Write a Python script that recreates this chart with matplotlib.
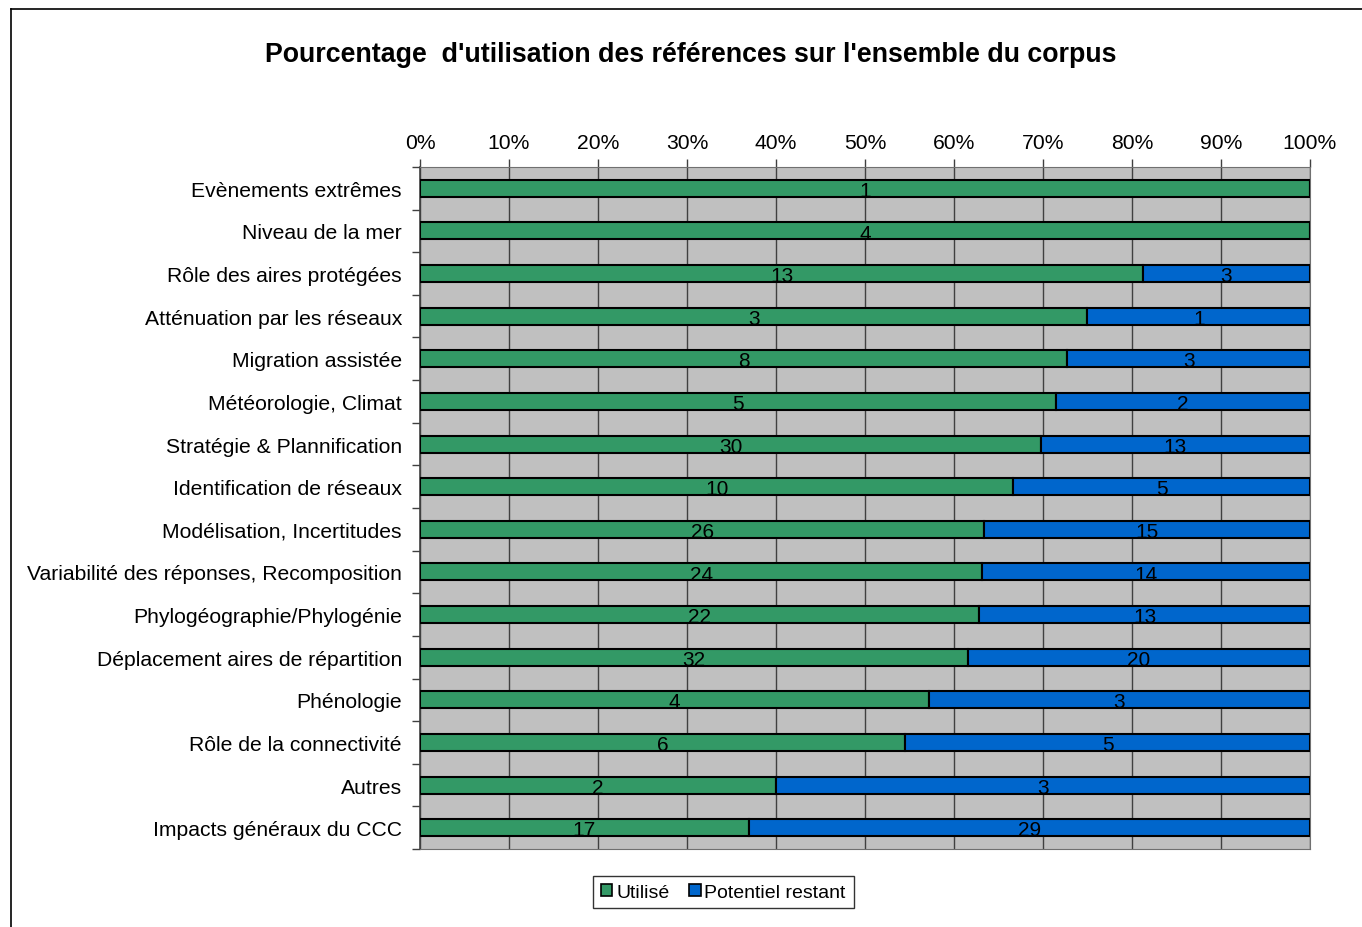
import matplotlib.pyplot as plt
import numpy as np
from matplotlib.patches import Patch
from matplotlib.lines import Line2D

plt.rcParams['font.family'] = ['Liberation Sans', 'DejaVu Sans']

categories = ["Evènements extrêmes", "Niveau de la mer", "Rôle des aires protégées",
              "Atténuation par les réseaux", "Migration assistée", "Météorologie, Climat",
              "Stratégie & Plannification", "Identification de réseaux",
              "Modélisation, Incertitudes", "Variabilité des réponses, Recomposition",
              "Phylogéographie/Phylogénie", "Déplacement aires de répartition",
              "Phénologie", "Rôle de la connectivité", "Autres", "Impacts généraux du CCC"]
utilise = [1, 4, 13, 3, 8, 5, 30, 10, 26, 24, 22, 32, 4, 6, 2, 17]
restant = [0, 0, 3, 1, 3, 2, 13, 5, 15, 14, 13, 20, 3, 5, 3, 29]

green = "#339966"
blue = "#0066CC"

u = np.array(utilise, dtype=float)
r = np.array(restant, dtype=float)
tot = u + r
pu = u / tot * 100
pr = r / tot * 100
y = np.arange(len(categories))

fig = plt.figure(figsize=(13.62, 9.28), dpi=100)
ax = fig.add_axes([0.3084, 0.084, 0.6534, 0.735])
ax.set_facecolor("#C0C0C0")

ax.barh(y, pu, height=0.4, color=green, edgecolor="black", linewidth=1.5, zorder=3)
ax.barh(y, pr, left=pu, height=0.4, color=blue, edgecolor="black", linewidth=1.5, zorder=3)

for i in range(len(categories)):
    ax.text(pu[i] / 2, y[i] + 0.05, str(utilise[i]), ha="center", va="center",
            fontsize=15, zorder=4)
    if restant[i] > 0:
        ax.text(pu[i] + pr[i] / 2, y[i] + 0.05, str(restant[i]), ha="center", va="center",
                fontsize=15, zorder=4)

ax.set_xlim(0, 100)
ax.set_ylim(len(categories) - 0.5, -0.5)
ax.xaxis.tick_top()
ax.set_xticks(np.arange(0, 101, 10))
ax.set_xticklabels([f"{v}%" for v in range(0, 101, 10)], fontsize=15.2)
ax.tick_params(axis="x", direction="out", length=6, width=1, pad=5, colors="#404040",
               labelcolor="black")
ax.grid(axis="x", color="#404040", linewidth=1, zorder=1)

ax.set_yticks(y)
ax.set_yticklabels(categories, fontsize=15.2)
ax.set_yticks(np.arange(-0.5, len(categories), 1), minor=True)
ax.tick_params(axis="y", which="major", length=0, pad=13)
ax.tick_params(axis="y", which="minor", direction="out", length=6, width=1, colors="#404040")

for s in ["top", "right", "bottom"]:
    ax.spines[s].set_color("#707070")
ax.spines["left"].set_color("#404040")
ax.spines["left"].set_linewidth(1.2)

fig.text(0.507, 0.941, "Pourcentage  d'utilisation des références sur l'ensemble du corpus",
         ha="center", va="center", fontsize=19.3, fontweight="bold")

handles = [Patch(facecolor=green, edgecolor="black", linewidth=1.2),
           Patch(facecolor=blue, edgecolor="black", linewidth=1.2)]
leg = fig.legend(handles, ["Utilisé", "Potentiel restant"], loc="center",
                 bbox_to_anchor=(0.531, 0.0377), ncol=2, fontsize=14, frameon=True,
                 fancybox=False, edgecolor="black", handlelength=0.6, handleheight=0.6,
                 handletextpad=0.2, columnspacing=1.0, borderpad=0.4)
leg.get_frame().set_linewidth(1)

# outer chart border (left and top only visible)
fig.add_artist(Line2D([0.008, 0.008], [0, 0.989], color="black", linewidth=1.2,
                      transform=fig.transFigure))
fig.add_artist(Line2D([0.008, 1.0], [0.989, 0.989], color="black", linewidth=1.2,
                      transform=fig.transFigure))

fig.savefig("out.png", dpi=100)
